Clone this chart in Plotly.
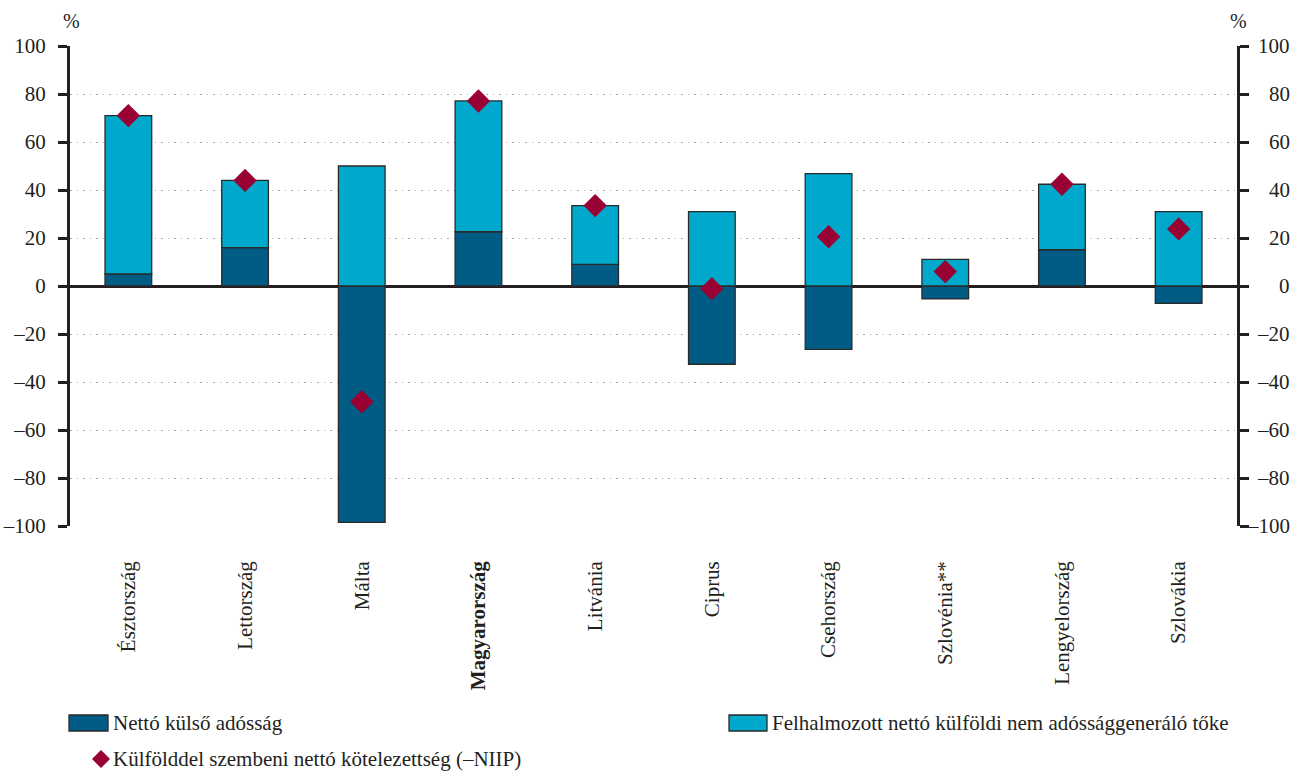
import plotly.graph_objects as go

# Countries (category axis)
countries = ["Észtország", "Lettország", "Málta", "Magyarország", "Litvánia",
             "Ciprus", "Csehország", "Szlovénia**", "Lengyelország", "Szlovákia"]
country_labels = ["Észtország", "Lettország", "Málta", "<b>Magyarország</b>", "Litvánia",
                  "Ciprus", "Csehország", "Szlovénia**", "Lengyelország", "Szlovákia"]

# Series values, % of GDP
net_external_debt = [5.0, 16.0, -98.5, 22.6, 9.0, -32.6, -26.4, -5.4, 15.1, -7.2]
non_debt_capital = [66.0, 28.0, 50.0, 54.5, 24.5, 31.0, 46.8, 11.1, 27.3, 31.0]
net_liabilities = [71.0, 44.0, -48.2, 77.1, 33.5, -1.1, 20.5, 6.0, 42.4, 23.8]

# Axis ticks
tick_values = [-100, -80, -60, -40, -20, 0, 20, 40, 60, 80, 100]
tick_labels = [str(v).replace("-", "–") for v in tick_values]

series_names = ["Nettó külső adósság",
                "Felhalmozott nettó külföldi nem adóssággeneráló tőke",
                "Külfölddel szembeni nettó kötelezettség (–NIIP)"]

DARK = "#005B85"
LIGHT = "#00A9CB"
DIAMOND = "#990033"
INK = "#231F20"
FONT = "Liberation Serif"

W, H = 1293, 771
ML, MR, MT, MB = 70, 56, 46, 245
PW, PH = W - ML - MR, H - MT - MB


def px(x):
    return (x - ML) / PW


def py(y):
    return (H - MB - y) / PH


fig = go.Figure()
fig.add_trace(go.Bar(x=countries, y=net_external_debt, name=series_names[0],
                     marker=dict(color=DARK, line=dict(color="#2a2a2a", width=1.3)),
                     width=0.4))
fig.add_trace(go.Bar(x=countries, y=non_debt_capital, name=series_names[1],
                     marker=dict(color=LIGHT, line=dict(color="#2a2a2a", width=1.3)),
                     width=0.4))
fig.add_trace(go.Scatter(x=countries, y=net_liabilities, name=series_names[2],
                         mode="markers",
                         marker=dict(symbol="diamond", size=18, color=DIAMOND,
                                     line=dict(width=0))))
# Mirror axis on the right-hand side
fig.add_trace(go.Scatter(x=countries, y=net_liabilities, yaxis="y2", mode="markers",
                         marker=dict(opacity=0), hoverinfo="skip", showlegend=False))

axis_common = dict(
    range=[-100, 100], tickvals=tick_values, ticktext=tick_labels,
    ticks="outside", ticklen=9, tickwidth=3, tickcolor=INK,
    showline=True, linewidth=3, linecolor=INK, automargin=False,
    tickfont=dict(family=FONT, size=21, color=INK),
)

fig.update_layout(
    width=W, height=H,
    margin=dict(l=ML, r=MR, t=MT, b=MB),
    paper_bgcolor="white", plot_bgcolor="white",
    barmode="relative",
    showlegend=False,
    font=dict(family=FONT, size=21, color=INK),
    xaxis=dict(tickmode="array", tickvals=countries, ticktext=country_labels,
               range=[-0.5, len(countries) - 0.5],
               tickangle=-90, ticks="", showline=False, showgrid=False,
               ticklabelstandoff=30, automargin=False,
               tickfont=dict(family=FONT, size=21, color=INK)),
    yaxis=dict(**axis_common, side="left", ticklabelstandoff=8,
               showgrid=True, gridcolor="#a8a8a8", griddash="1.5px,5px", gridwidth=1.3,
               zeroline=True, zerolinecolor=INK, zerolinewidth=2.5),
    yaxis2=dict(**axis_common, side="right", overlaying="y", showticklabels=False,
                showgrid=False, zeroline=False),
)

# Right-hand tick labels, right-aligned at the page edge
for v, t in zip(tick_values, tick_labels):
    fig.add_annotation(text=t, x=px(1292), y=v, xref="paper", yref="y2",
                       xanchor="right", yanchor="middle", showarrow=False,
                       font=dict(family=FONT, size=21, color=INK))

# Unit labels above both axes
for ux in (71, 1238):
    fig.add_annotation(text="%", x=px(ux), y=py(21), xref="paper", yref="paper",
                       xanchor="center", yanchor="middle", showarrow=False,
                       font=dict(family=FONT, size=20, color=INK))

# Legend drawn below the chart
def swatch(x0, x1, y0, y1, color):
    fig.add_shape(type="rect", xref="paper", yref="paper",
                  x0=px(x0), x1=px(x1), y0=py(y1), y1=py(y0),
                  fillcolor=color, line=dict(color="#2a2a2a", width=1.3))


def legend_text(x, y, text):
    fig.add_annotation(text=text, x=px(x), y=py(y), xref="paper", yref="paper",
                       xanchor="left", yanchor="middle", showarrow=False,
                       font=dict(family=FONT, size=21, color=INK))


swatch(69, 108, 715, 731, DARK)
legend_text(111, 723, series_names[0])
swatch(729, 767, 715, 731, LIGHT)
legend_text(770, 723, series_names[1])

cx, cy, r = 101, 759, 9
fig.add_shape(type="path", xref="paper", yref="paper",
              path=(f"M {px(cx - r)} {py(cy)} L {px(cx)} {py(cy - r)} "
                    f"L {px(cx + r)} {py(cy)} L {px(cx)} {py(cy + r)} Z"),
              fillcolor=DIAMOND, line=dict(width=0))
legend_text(111, 759, series_names[2])

fig.write_html("out.html")
